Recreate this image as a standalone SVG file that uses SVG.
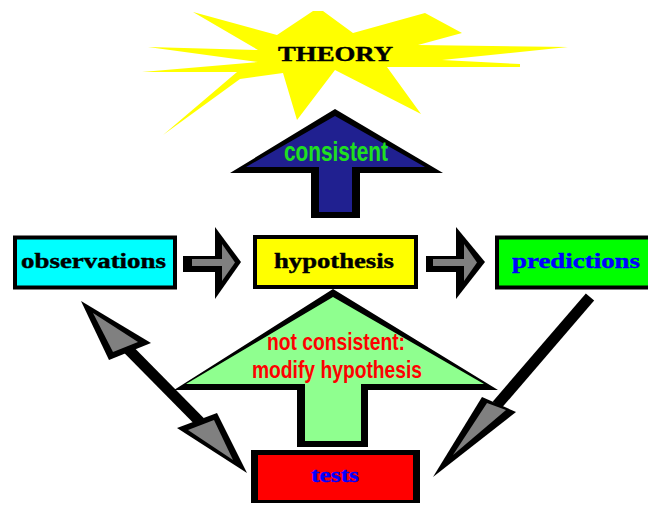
<svg xmlns="http://www.w3.org/2000/svg" width="648" height="506" viewBox="0 0 648 506">
<style>
.lbl{font-family:"Liberation Serif","DejaVu Serif",serif;font-weight:bold;font-size:20px;stroke-width:0.4}
.arr{font-family:"Liberation Sans","Arial",sans-serif;font-weight:bold}
.gray{fill:#808080}
</style>
<rect width="648" height="506" fill="#ffffff"/>
<g id="theory">
<polygon fill="#ffff00" points="148,47 258,50 193,12 277,35 313,11 323,11 353,33 425,13 462,33 418,45 568,47 442,60 520,64 520,67 387,67 421,114 335,70 297,120 283,73 240,79 163,135 237,72 142,72 258,62"/>
<text class="lbl" x="278" y="61" font-size="19" textLength="115" lengthAdjust="spacingAndGlyphs" fill="#000" stroke="#000">THEORY</text>
</g>
<g id="consistent-arrow">
<polygon fill="#000" points="335,109 443,173 360,173 360,218 311,218 311,173 230,173"/>
<polygon fill="#202090" points="335,116 425,167 352,167 352,212 319,212 319,167 246,167"/>
<text class="arr" x="284" y="161" font-size="27" textLength="104" lengthAdjust="spacingAndGlyphs" fill="#1fe01f">consistent</text>
</g>
<g id="not-consistent-arrow">
<polygon fill="#000" points="333,289 498,390 368,390 368,447 297,447 297,390 174,390"/>
<polygon fill="#8fff8f" points="333,297 484,384 361,384 361,441 305,441 305,384 186,384"/>
<text class="arr" x="267" y="350" font-size="24" textLength="138" lengthAdjust="spacingAndGlyphs" fill="#ff0000">not consistent:</text>
<text class="arr" x="252" y="378" font-size="24" textLength="170" lengthAdjust="spacingAndGlyphs" fill="#ff0000">modify hypothesis</text>
</g>
<g id="observations">
<rect x="15" y="237.5" width="160" height="50" fill="#00ffff" stroke="#000" stroke-width="4"/>
<text class="lbl" x="21" y="268" textLength="145" lengthAdjust="spacingAndGlyphs" stroke="#000">observations</text>
</g>
<g id="hypothesis">
<rect x="255" y="237" width="161" height="50" fill="#ffff00" stroke="#000" stroke-width="4"/>
<text class="lbl" x="274" y="268" textLength="120" lengthAdjust="spacingAndGlyphs" stroke="#000">hypothesis</text>
</g>
<g id="predictions">
<rect x="497" y="237.5" width="160" height="50" fill="#00ff00" stroke="#000" stroke-width="4"/>
<text class="lbl" x="512" y="268" textLength="128" lengthAdjust="spacingAndGlyphs" fill="#0000ff" stroke="#0000ff">predictions</text>
</g>
<g id="tests">
<rect x="251" y="450" width="169" height="53" fill="#000"/>
<rect x="258" y="455" width="155" height="45" fill="#ff0000"/>
<text class="lbl" x="311" y="482" textLength="48" lengthAdjust="spacingAndGlyphs" fill="#0000ff" stroke="#0000ff">tests</text>
</g>
<g id="connectors">
<g id="obs-to-hyp">
<rect x="183" y="256" width="34" height="16" fill="#000"/>
<polygon fill="#000" points="215,227 241,262 215,299"/>
<rect class="gray" x="192" y="259" width="31" height="7"/>
<polygon class="gray" points="222,244 235,262.5 222,281"/>
</g>
<g id="hyp-to-pred">
<rect x="426" y="256" width="32" height="16" fill="#000"/>
<polygon fill="#000" points="456,227 485,262 456,299"/>
<rect class="gray" x="433" y="259" width="32" height="7"/>
<polygon class="gray" points="464,244 477,262.5 464,281"/>
</g>
<g id="obs-tests">
<line x1="125" y1="346" x2="200" y2="422" stroke="#000" stroke-width="11"/>
<polygon fill="#000" points="81,301 151,343 109,360"/>
<polygon class="gray" points="93,313 138,342 113,352"/>
<polygon fill="#000" points="177,428 217,413 247,473"/>
<polygon class="gray" points="188,430 214,420 233,460"/>
</g>
<g id="pred-tests">
<line x1="590" y1="297" x2="497" y2="405" stroke="#000" stroke-width="11"/>
<polygon fill="#000" points="482,397 516,412 433,477"/>
<polygon class="gray" points="487,403 506,410 453,455"/>
</g>
</g>
</svg>
